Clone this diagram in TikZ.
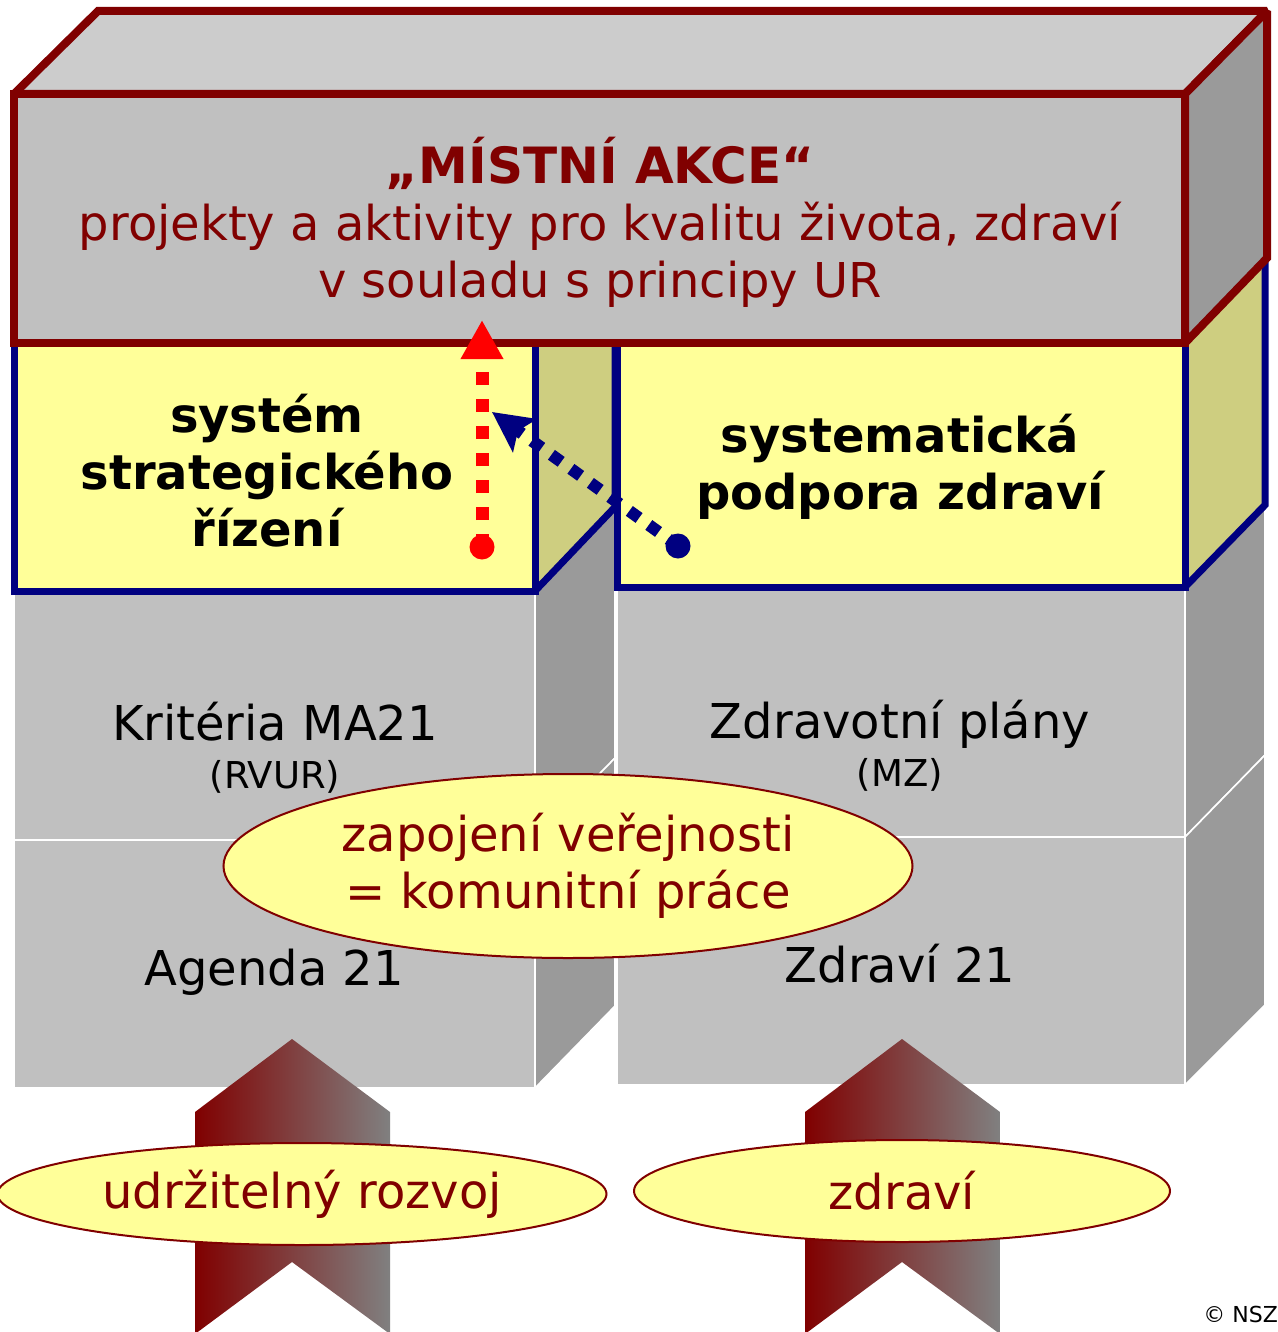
\documentclass[tikz,border=0pt]{standalone}
\usepackage{fontspec}
\setmainfont{DejaVu Sans}
\usetikzlibrary{arrows.meta,shapes.geometric}
\definecolor{edgemaroon}{RGB}{128,0,0}
\definecolor{edgenavy}{RGB}{0,0,128}
\definecolor{paleyellow}{RGB}{255,255,153}
\definecolor{oliveside}{RGB}{206,206,128}
\definecolor{frontgray}{RGB}{192,192,192}
\definecolor{topgray}{RGB}{204,204,204}
\definecolor{sidegray}{RGB}{154,154,154}
\definecolor{fadegray}{RGB}{128,128,128}
\definecolor{dotred}{RGB}{255,0,0}
\newcommand{\labsize}{\fontsize{24}{28.5}\selectfont}
\tikzset{
  brick/.style={fill=frontgray,draw=white,line width=0.8pt},
  brickside/.style={brick,fill=sidegray},
  roofedge/.style={draw=edgemaroon,line width=4pt,line join=miter,miter limit=2},
  pillaredge/.style={draw=edgenavy,line width=3.5pt,line join=miter,miter limit=2},
  bubble/.style={ellipse,draw=edgemaroon,line width=1pt,fill=paleyellow,
                 text=edgemaroon,inner sep=0pt,align=center,font=\labsize},
  ribbon/.style={left color=edgemaroon,right color=fadegray},
  redflow/.style={dotred,line width=6.5pt,dash pattern=on 6.5pt off 7pt,
                  -{Triangle[length=19.5pt,width=20pt]}},
  blueflow/.style={edgenavy,line width=6pt,dash pattern=on 6pt off 6pt,
                  -{Stealth[length=20pt,width=20pt,inset=4pt]}},
  endpoint/.style={circle,inner sep=0pt,minimum size=12.5pt},
  lab/.style={font=\labsize,align=center},
  srcnote/.style={font=\fontsize{18.5}{22}\selectfont},
}

\begin{document}
\begin{tikzpicture}[x=0.5pt,y=-0.5pt]
  \useasboundingbox (0,0) rectangle (1278,1332);

  % lower bricks
  \path[brick] (14,591) rectangle (535,840);
  \path[brick] (14,840) rectangle (535,1088);
  \path[brickside] (535,591) -- (615,507) -- (615,758) -- (535,840) -- cycle;
  \path[brickside] (535,840) -- (615,758) -- (615,1006) -- (535,1088) -- cycle;
  \path[brick] (617,587) rectangle (1185,837);
  \path[brick] (617,837) rectangle (1185,1085);
  \path[brickside] (1185,587) -- (1265,505) -- (1265,755) -- (1185,837) -- cycle;
  \path[brickside] (1185,837) -- (1265,755) -- (1265,1005) -- (1185,1085) -- cycle;

  % yellow pillars
  \path[fill=paleyellow] (14,342) rectangle (535,591);
  \path[fill=oliveside] (535,591) -- (615,507) -- (615,342) -- (535,342) -- cycle;
  \draw[pillaredge] (14,342) rectangle (535,591);
  \draw[pillaredge] (535,591) -- (615,507) -- (615,342);
  \path[fill=paleyellow] (617,342) rectangle (1185,587);
  \path[fill=oliveside] (1185,587) -- (1265,505) -- (1265,258) -- (1185,342) -- cycle;
  \draw[pillaredge] (617,342) rectangle (1185,587);
  \draw[pillaredge] (1185,587) -- (1265,505) -- (1265,258);

  % roof block
  \filldraw[roofedge,fill=topgray] (14,94) -- (98,11) -- (1267,11) -- (1185,94) -- cycle;
  \filldraw[roofedge,fill=sidegray] (1185,94) -- (1267,11) -- (1267,258) -- (1185,343) -- cycle;
  \filldraw[roofedge,fill=frontgray] (14,94) rectangle (1185,343);

  \node[lab,text=edgemaroon] (mistniAkce) at (600,222)
    {{\fontsize{25}{28.5}\selectfont\bfseries „MÍSTNÍ AKCE“}\\
     projekty a aktivity pro kvalitu života, zdraví\\
     v souladu s principy UR};
  \node[lab,font=\labsize\bfseries] (strategie) at (267,471)
    {systém\\strategického\\řízení};
  \node[lab,font=\labsize\bfseries] (podpora) at (900,467)
    {systematická\\podpora zdraví};
  \node[lab,anchor=base] (kriteria) at (275,740) {Kritéria MA21};
  \node[srcnote,anchor=base] (rvur) at (275,788) {(RVUR)};
  \node[lab,anchor=base] (plany) at (900,738) {Zdravotní plány};
  \node[srcnote,anchor=base] (mz) at (900,786) {(MZ)};
  \node[lab,anchor=base] (agenda) at (274,985) {Agenda 21};
  \node[lab,anchor=base] (zdravi21) at (900,982) {Zdraví 21};

  % dotted links
  \node[endpoint,fill=dotred] (redStart) at (482,547) {};
  \coordinate (redEnd) at (482,320);
  \draw[redflow] (redStart.center) -- (redEnd);
  \node[endpoint,fill=edgenavy] (blueStart) at (678,546) {};
  \coordinate (blueEnd) at (492,412);
  \draw[blueflow] (blueStart.center) -- (blueEnd);

  \node[bubble,minimum width=344.5pt,minimum height=92pt] (verejnost) at (568,866)
    {zapojení veřejnosti\\= komunitní práce};

  % ribbons
  \shade[ribbon] (195,1112) -- (292,1039) -- (390,1112) -- (390,1334)
    -- (292,1262) -- (195,1334) -- cycle;
  \shade[ribbon] (805,1112) -- (902,1039) -- (1000,1112) -- (1000,1334)
    -- (902,1262) -- (805,1334) -- cycle;
  \node[bubble,minimum width=304.5pt,minimum height=51pt] (rozvoj) at (302,1194)
    {udržitelný rozvoj};
  \node[bubble,minimum width=268pt,minimum height=51pt] (zdravi) at (902,1191)
    {zdraví};

  \node[font=\fontsize{11}{13}\selectfont,anchor=base west,inner sep=0pt] (copyr)
    at (1203,1322) {© NSZ};
\end{tikzpicture}
\end{document}
